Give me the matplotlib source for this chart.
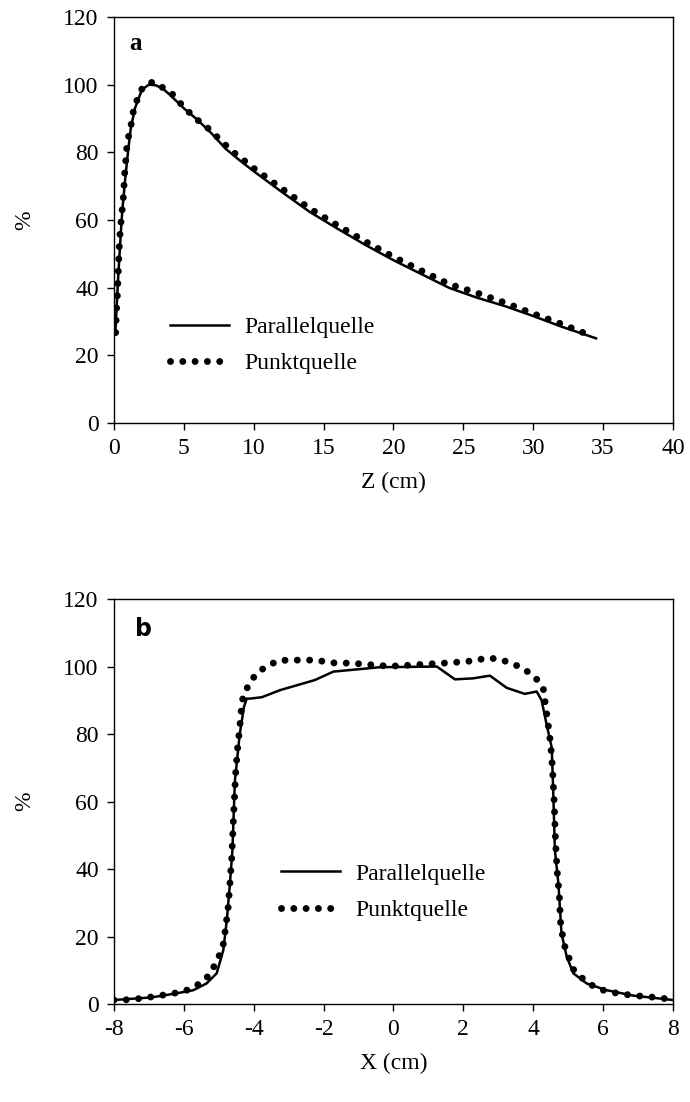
import numpy as np
import matplotlib
matplotlib.use("Agg")
import matplotlib.pyplot as plt

plt.rcParams['font.family'] = ['Liberation Serif', 'DejaVu Serif']
plt.rcParams['axes.unicode_minus'] = False

# Tiefendosis (a)
z_par = [0.1, 0.15, 0.2, 0.3, 0.4, 0.5, 0.6, 0.8, 1.0, 1.2, 1.5, 2.0, 2.5, 3.0, 3.5, 4.0,
         5.0, 6.0, 7.0, 8.0, 9.0, 10, 12, 14, 16, 18, 20, 22, 24, 26, 28, 30, 32, 34.5]
d_par = [27, 31, 35, 43, 50, 57, 63, 72, 80, 87, 93, 98.5, 100, 99.8, 98.8, 97,
         93, 89.5, 85.5, 81, 77.6, 74.4, 68.3, 62.4, 57.4, 52.6, 48.1, 44, 39.9, 37, 34.5, 31.6, 28.5, 25]
z_pkt = [0.12, 0.15, 0.19, 0.24, 0.31, 0.38, 0.43, 0.5, 0.67, 0.77, 0.91, 1.05, 1.24, 1.38, 1.67, 2.05,
         2.77, 3.46, 4.2, 4.92, 5.75, 6.68, 7.52, 8.37, 9.33, 10, 12, 14, 16, 18, 20, 22, 24, 26, 28, 30, 32, 34]
d_pkt = [26.7, 30.4, 34, 37.6, 44.9, 52, 55.7, 59.4, 66.7, 74, 81.2, 84.8, 88.5, 92, 95.7, 99.2,
         100.8, 99.2, 97.1, 93.7, 90.3, 87.3, 84, 80.6, 77.5, 75.3, 69.3, 63.4, 58.4, 53.6, 49.1, 45, 41, 38.4, 35.5, 32.3, 29.3, 26]

# Querprofil (b)
x_par = [-8, -7, -6.78, -6.2, -5.73, -5.35, -5.06, -4.87, -4.77, -4.68, -4.61, -4.54, -4.4, -4.28, -4.2,
         -4.11, -3.77, -3.25, -2.25, -1.72, -0.39, 1.24, 1.76, 2.28, 2.76, 3.24, 3.76, 4.1, 4.24,
         4.38, 4.53, 4.57, 4.62, 4.72, 4.81, 4.96, 5.15, 5.53, 6.1, 6.86, 8]
p_par = [1.2, 1.9, 2.2, 3.2, 4.1, 6.1, 9.1, 16, 24.9, 35.8, 45.6, 66, 80, 88, 90.5,
         90.5, 90.9, 93, 96, 98.5, 99.8, 100, 96.2, 96.5, 97.3, 93.7, 91.9, 92.6, 90,
         83, 76, 64, 45.6, 35.8, 20.9, 14, 9.1, 6.1, 4.1, 2.5, 1.2]
x_pkt = [-8, -7.5, -7, -6.5, -6, -5.75, -5.5, -5.25, -5.0, -4.87, -4.8, -4.73, -4.68, -4.63, -4.58,
         -4.52, -4.46, -4.4, -4.35, -4.3, -4.16, -3.94, -3.63, -3.28, -2.9, -2.2, -1.8, -1.2, -0.5,
         -0.1, 0.3, 0.9, 1.6, 2.3, 2.7, 3.05, 3.4, 3.75, 4.08, 4.29, 4.36, 4.43, 4.5, 4.55, 4.6,
         4.64, 4.68, 4.72, 4.75, 4.78, 4.83, 4.9, 5.03, 5.16, 5.48, 5.83, 6.18, 6.53, 6.9, 7.25, 7.55, 8]
p_pkt = [1.2, 1.3, 2.0, 2.8, 3.7, 4.9, 6.3, 8.8, 14, 17.8, 23, 28.8, 36, 43.3, 55,
         68, 76, 82, 88, 91.5, 94.2, 97.8, 100.1, 101.8, 101.9, 101.9, 101.1, 101, 100.4,
         100.1, 100.3, 100.7, 101.1, 101.7, 102.6, 102.1, 100.9, 99.2, 96.5, 93.4, 88, 82.7, 77, 70, 60,
         48, 40, 35.3, 31.6, 24.4, 20.9, 17.2, 13.5, 10.1, 6.9, 4.6, 3.6, 3.0, 2.5, 2.2, 1.9, 1.3]

labels = ['Parallelquelle', 'Punktquelle']
fs = 17
dot_style = (0, (0.001, 1.77))

fig = plt.figure(figsize=(6.9, 11.02), dpi=100)
ax1 = fig.add_axes([0.1652, 0.6162, 0.8101, 0.3684])
ax2 = fig.add_axes([0.1652, 0.0889, 0.8101, 0.3675])


def style(ax):
    for s in ax.spines.values():
        s.set_linewidth(1.0)
    ax.tick_params(direction='out', length=5, width=1, labelsize=fs, pad=6)
    ax.set_ylim(0, 120)
    ax.set_yticks(range(0, 121, 20))
    ax.set_ylabel('%', fontsize=fs, labelpad=20)


ax1.plot(z_par, d_par, color='black', lw=1.8, label=labels[0])
ax1.plot(z_pkt, d_pkt, color='black', lw=5, linestyle=dot_style,
         dash_capstyle='round', label=labels[1])
ax1.set_xlim(0, 40)
ax1.set_xticks(range(0, 41, 5))
style(ax1)
ax1.set_xlabel('Z (cm)', fontsize=fs, labelpad=9)
ax1.text(0.028, 0.935, 'a', transform=ax1.transAxes, fontsize=fs + 1,
         fontweight='bold', va='center', ha='left')
ax1.legend(loc='upper left', bbox_to_anchor=(0.1, 0.262), frameon=False,
           fontsize=fs, handlelength=2.5, handletextpad=0.65, labelspacing=0.62,
           borderpad=0, borderaxespad=0)

ax2.plot(x_par, p_par, color='black', lw=1.8, label=labels[0])
ax2.plot(x_pkt, p_pkt, color='black', lw=5, linestyle=dot_style,
         dash_capstyle='round', label=labels[1])
ax2.set_xlim(-8, 8)
ax2.set_xticks(range(-8, 9, 2))
style(ax2)
ax2.set_xlabel('X (cm)', fontsize=fs, labelpad=9)
ax2.text(0.038, 0.925, 'b', transform=ax2.transAxes, fontsize=fs,
         fontweight='bold', family='DejaVu Sans', va='center', ha='left')
ax2.legend(loc='upper left', bbox_to_anchor=(0.299, 0.348), frameon=False,
           fontsize=fs, handlelength=2.5, handletextpad=0.65, labelspacing=0.62,
           borderpad=0, borderaxespad=0)

fig.savefig('out.png', dpi=100)
